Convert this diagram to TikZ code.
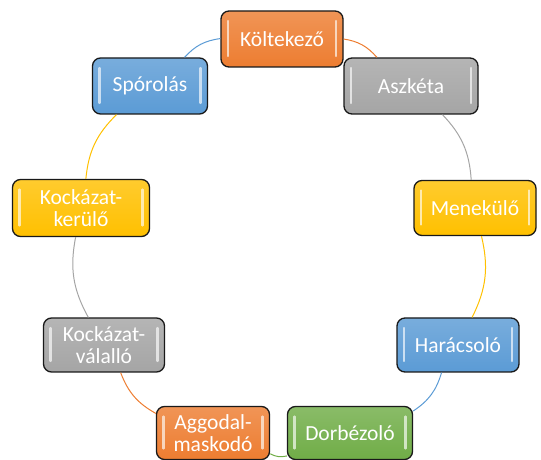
\documentclass[tikz,border=0pt]{standalone}
\usepackage{fontspec}
\setmainfont{Carlito}
\definecolor{accOrange}{HTML}{ED7D31}
\definecolor{accGray}{HTML}{A5A5A5}
\definecolor{accYellow}{HTML}{FFC000}
\definecolor{accBlue}{HTML}{5B9BD5}
\definecolor{accGreen}{HTML}{70AD47}
\tikzset{
  stage/.style={rectangle, rounded corners=8pt, draw=black!90, line width=1.3pt,
    top color=#1!82!white, bottom color=#1, text=white, align=center,
    font=\fontsize{21.5}{22}\selectfont, inner sep=2pt,
    path picture={
      \draw[#1!25!white, opacity=.9, line width=2.2pt, line cap=round]
        ([xshift=7pt,yshift=11pt]path picture bounding box.south west) --
        ([xshift=7pt,yshift=-10pt]path picture bounding box.north west);
      \draw[#1!25!white, opacity=.9, line width=2.2pt, line cap=round]
        ([xshift=-7pt,yshift=11pt]path picture bounding box.south east) --
        ([xshift=-7pt,yshift=-10pt]path picture bounding box.north east);
    }},
  link/.style={draw=#1, line width=1pt}
}
\begin{document}
\begin{tikzpicture}[x=1pt,y=1pt]
\useasboundingbox (0,0) rectangle (541,460);
% stages of the cycle
\foreach \x/\y/\w/\h/\c/\n/\t in {
    282/421/122/56/accOrange/kolt/{Költekező},
    411/374/134/56/accGray/aszk/{Aszkéta},
    475/252/122/55/accYellow/menek/{Menekülő},
    458/115/122/54/accBlue/harac/{Harácsoló},
    350/27/125/53/accGreen/dorb/{Dorbézoló},
    213/27/113/53/accOrange/aggod/{Aggodal-\\maskodó},
    104/115/121/54/accGray/kvall/{Kockázat-\\válalló},
    81/252/137/57/accYellow/kker/{Kockázat-\\kerülő},
    150/374/115/56/accBlue/spor/{Spórolás}}
  \node[stage=\c, minimum width=\w pt, minimum height=\h pt] (\n) at (\x,\y) {\t};
% arcs, clockwise
\draw[link=accOrange] (kolt) to[bend left=20] (aszk);
\draw[link=accGray] (aszk) to[bend left=20] (menek);
\draw[link=accYellow] (menek) to[bend left=20] (harac);
\draw[link=accBlue] (harac) to[bend left=20] (dorb);
\draw[link=accGreen] (dorb) to[bend left=20] (aggod);
\draw[link=accOrange] (aggod) to[bend left=20] (kvall);
\draw[link=accGray] (kvall) to[bend left=20] (kker);
\draw[link=accYellow] (kker) to[bend left=20] (spor);
\draw[link=accBlue] (spor) to[bend left=20] (kolt);
\end{tikzpicture}
\end{document}
